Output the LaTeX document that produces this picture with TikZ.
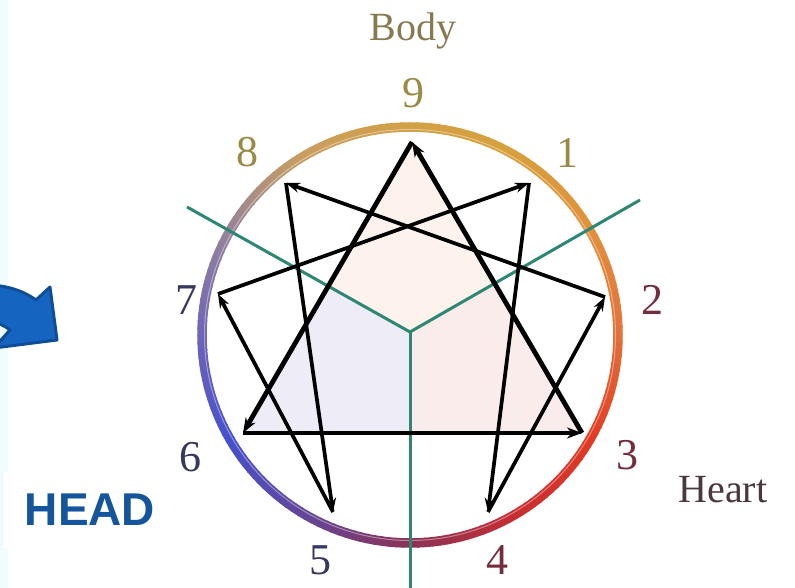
\documentclass[tikz,border=0pt]{standalone}
\usepackage{fontspec}
\setmainfont{Liberation Serif}
\newfontfamily\headfont{Liberation Sans}
\usetikzlibrary{arrows.meta,calc}
\definecolor{c270}{RGB}{140,50,85}
\definecolor{c300}{RGB}{200,45,50}
\definecolor{c330}{RGB}{225,60,35}
\definecolor{c0}{RGB}{225,115,60}
\definecolor{c30}{RGB}{225,145,60}
\definecolor{c60}{RGB}{215,160,60}
\definecolor{c90}{RGB}{210,160,70}
\definecolor{c120}{RGB}{200,158,95}
\definecolor{c150}{RGB}{150,130,155}
\definecolor{c180}{RGB}{110,100,185}
\definecolor{c210}{RGB}{70,80,205}
\definecolor{c240}{RGB}{100,70,150}
\definecolor{greenline}{RGB}{46,135,115}
\definecolor{peachf}{RGB}{253,243,236}
\definecolor{lavf}{RGB}{238,236,247}
\definecolor{pinkf}{RGB}{251,236,236}
\definecolor{bodycol}{RGB}{135,122,80}
\definecolor{topnum}{RGB}{155,138,70}
\definecolor{rightnum}{RGB}{115,45,60}
\definecolor{leftnum}{RGB}{55,55,95}
\definecolor{heartcol}{RGB}{75,55,60}
\definecolor{headblue}{RGB}{20,85,155}
\definecolor{arrowfill}{RGB}{21,101,192}
\definecolor{arrowedge}{RGB}{14,78,150}
\definecolor{stripcol}{RGB}{240,252,253}
\begin{document}
\begin{tikzpicture}[x=1pt,y=1pt,
  hexarrow/.style={line width=3.7pt, -{Stealth[length=14pt,width=10pt]}, black},
  triarrow/.style={line width=4.8pt, -{Stealth[length=15pt,width=11pt]}, black},
  numlabel/.style={font=\fontsize{44}{44}\selectfont, inner sep=0pt},
  wordlabel/.style={font=\fontsize{40}{40}\selectfont, inner sep=0pt},
  green/.style={line width=3pt, greenline}]
\useasboundingbox (0,0) rectangle (795,588);
\clip (0,0) rectangle (795,588);
\fill[white] (0,0) rectangle (795,588);
\fill[stripcol] (0,0) rectangle (8,588);
% points
\coordinate (O) at (410,253);
\coordinate (J) at (410,256);
\coordinate (GL) at (187,381);
\coordinate (GR) at (640,388);
\coordinate (GB) at (410,-5);
\coordinate (p9) at (412,446);
\coordinate (p1) at (529,405);
\coordinate (p8) at (286,405);
\coordinate (p2) at (605,291);
\coordinate (p7) at (218,294);
\coordinate (p3) at (582,155);
\coordinate (p6) at (243,155);
\coordinate (p4) at (488,76);
\coordinate (p5) at (333,76);
% shaded sectors
\begin{scope}
\clip (p9) -- (p6) -- (p3) -- cycle;
\fill[peachf] (J) -- ($(J)!3!(GL)$) -- (410,800) -- ($(J)!3!(GR)$) -- cycle;
\fill[lavf] (J) -- ($(J)!3!(GL)$) -- (-300,-300) -- (410,-300) -- cycle;
\fill[pinkf] (J) -- ($(J)!3!(GR)$) -- (1100,-300) -- (410,-300) -- cycle;
\end{scope}
% ring
\foreach \a/\ca/\cb in {-90/c270/c300, -60/c300/c330, -30/c330/c0, 0/c0/c30, 30/c30/c60, 60/c60/c90, 90/c90/c120, 120/c120/c150, 150/c150/c180, 180/c180/c210, 210/c210/c240, 240/c240/c270}{
  \foreach \k in {0,...,14}{
    \pgfmathtruncatemacro\p{100-\k*100/15}
    \pgfmathsetmacro\s{\a+2*\k}
    \draw[line width=9.5pt, color=\ca!\p!\cb] (O) ++(\s:208) arc[start angle=\s, end angle=\s+2.4, radius=208];
  }
}
\draw[white, opacity=0.4, line width=1pt] (O) circle[radius=205.5];
% green lines
\draw[green] (GL) -- (J) -- (GR);
\draw[green] (J) -- (GB);
% hexad arrows
\draw[hexarrow] (p1) -- (p4);
\draw[hexarrow] (p4) -- (p2);
\draw[hexarrow] (p2) -- (p8);
\draw[hexarrow] (p8) -- (p5);
\draw[hexarrow] (p5) -- (p7);
\draw[hexarrow] (p7) -- (p1);
% triangle arrows
\draw[triarrow] (p9) -- (p6);
\draw[triarrow] (p6) -- (p3);
\draw[triarrow] (p3) -- (p9);
% labels
\node[wordlabel, text=bodycol] (body) at (413,557) {Body};
\node[wordlabel, text=heartcol] (heart) at (723,98) {Heart};
\node[numlabel, text=topnum] (n9) at (413,495) {9};
\node[numlabel, text=topnum] (n8) at (247,436) {8};
\node[numlabel, text=topnum] (n1) at (567,435) {1};
\node[numlabel, text=rightnum] (n2) at (652,288) {2};
\node[numlabel, text=rightnum] (n3) at (627,133) {3};
\node[numlabel, text=rightnum] (n4) at (497,28) {4};
\node[numlabel, text=leftnum] (n5) at (320,28) {5};
\node[numlabel, text=leftnum] (n6) at (190,131) {6};
\node[numlabel, text=leftnum] (n7) at (186,288) {7};
% HEAD box
\fill[white] (4,40) rectangle (172,116);
\node[font=\headfont\bfseries\fontsize{46}{46}\selectfont, text=headblue, inner sep=0pt] (head) at (90,78) {HEAD};
% blue arrow
\draw[fill=arrowfill, draw=arrowedge, line width=3pt, line join=round]
  (-10,303) .. controls (10,302) and (25,296) .. (36,288) -- (50,301) -- (57,248) -- (-6,240) -- (10,258) .. controls (5,262) and (0,264) .. (-10,268) -- cycle;
\end{tikzpicture}
\end{document}
